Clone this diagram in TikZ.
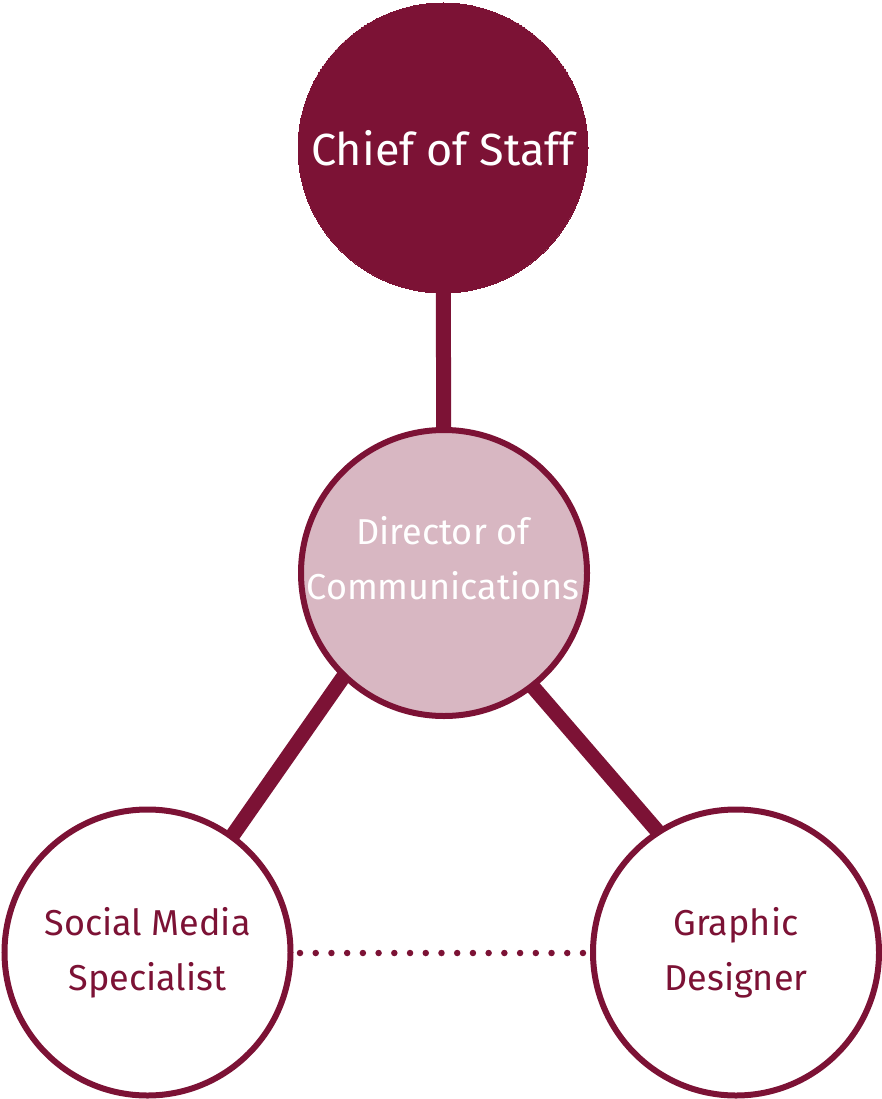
\documentclass[tikz,border=0pt]{standalone}
\usepackage{fontspec}
\setmainfont{Fira Sans}
\usetikzlibrary{backgrounds}
\definecolor{maroon}{HTML}{7C1235}
\definecolor{pinkfill}{HTML}{D8B7C2}
\tikzset{
  role/.style={circle, draw=maroon, line width=6pt, minimum size=286pt, inner sep=0pt, align=center, font=\fontsize{36}{55}\selectfont},
  roletext/.style={align=center, inner sep=0pt, font=\fontsize{36}{55}\selectfont},
  link/.style={draw=maroon, line width=15pt},
  dotlink/.style={draw=maroon, line width=6.5pt, line cap=round, dash pattern=on 0pt off 15.72pt}
}
\begin{document}
\begin{tikzpicture}[x=1pt,y=-1pt]
\useasboundingbox (0,0) rectangle (882,1099);
\node[role, fill=maroon, text=white, minimum size=290pt, line width=0pt, font=\fontsize{45}{55}\selectfont] (chief) at (443,148) {Chief of Staff};
\node[role, fill=pinkfill] (dir) at (444,573) {};
\node[roletext, text=white] (dirtext) at (443,558) {Director of\\Communications};
\node[role, fill=white, text=maroon] (social) at (147.5,952.5) {Social Media\\Specialist};
\node[role, fill=white, text=maroon] (graphic) at (736,952.5) {Graphic\\Designer};
\coordinate (d1) at (300,953);
\coordinate (d2) at (583,953);
\begin{scope}[on background layer]
\draw[link] (chief.center) -- (dir.center);
\draw[link, shorten <=-6pt, shorten >=-6pt] (dir.226) -- (social.54);
\draw[link, shorten <=-6pt, shorten >=-6pt] (dir.-52) -- (graphic.123);
\end{scope}
\draw[dotlink] (d1) -- (d2);
\end{tikzpicture}
\end{document}
